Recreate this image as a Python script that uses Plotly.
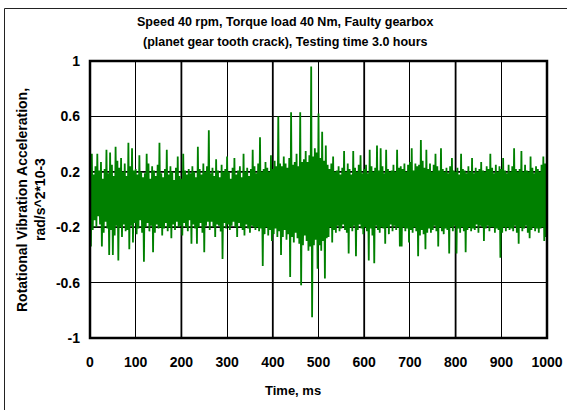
import numpy as np
import plotly.graph_objects as go

# Sample times (ms), 2 ms spacing
time_ms = list(range(0, 1001, 2))

# Rotational vibration acceleration (rad/s^2*10-3)
accel = [
    0.12, -0.34, 0.33, -0.22, 0.18, -0.15, 0.24, -0.20, 0.33, -0.12,
    0.21, -0.18, 0.27, -0.34, 0.15, -0.24, 0.22, -0.16, 0.36, -0.21,
    0.19, -0.40, 0.34, -0.22, 0.25, -0.40, 0.17, -0.26, 0.38, -0.19,
    0.28, -0.44, 0.23, -0.20, 0.30, -0.27, 0.20, -0.18, 0.26, -0.23,
    0.17, -0.22, 0.41, -0.36, 0.24, -0.19, 0.37, -0.31, 0.21, -0.17,
    0.22, -0.25, 0.18, -0.21, 0.32, -0.15, 0.20, -0.24, 0.16, -0.45,
    0.19, -0.20, 0.33, -0.17, 0.26, -0.23, 0.15, -0.19, 0.24, -0.38,
    0.21, -0.24, 0.17, -0.18, 0.25, -0.21, 0.41, -0.20, 0.19, -0.26,
    0.16, -0.21, 0.22, -0.17, 0.36, -0.23, 0.18, -0.20, 0.24, -0.28,
    0.20, -0.18, 0.14, -0.22, 0.23, -0.16, 0.31, -0.20, 0.17, -0.19,
    0.15, -0.26, 0.33, -0.17, 0.21, -0.20, 0.18, -0.23, 0.22, -0.15,
    0.19, -0.32, 0.24, -0.18, 0.20, -0.21, 0.16, -0.32, 0.38, -0.20,
    0.22, -0.17, 0.18, -0.24, 0.26, -0.38, 0.20, -0.19, 0.24, -0.16,
    0.50, -0.22, 0.19, -0.16, 0.23, -0.20, 0.17, -0.27, 0.29, -0.18,
    0.21, -0.19, 0.16, -0.23, 0.25, -0.43, 0.20, -0.17, 0.22, -0.21,
    0.31, -0.18, 0.20, -0.22, 0.15, -0.19, 0.23, -0.16, 0.30, -0.20,
    0.18, -0.27, 0.21, -0.17, 0.24, -0.20, 0.16, -0.22, 0.33, -0.26,
    0.20, -0.18, 0.23, -0.21, 0.17, -0.24, 0.22, -0.19, 0.36, -0.20,
    0.24, -0.22, 0.19, -0.20, 0.26, -0.23, 0.45, -0.21, 0.20, -0.48,
    0.22, -0.25, 0.27, -0.20, 0.23, -0.26, 0.20, -0.22, 0.32, -0.30,
    0.22, -0.25, 0.28, -0.21, 0.24, -0.27, 0.60, -0.23, 0.26, -0.40,
    0.24, -0.27, 0.31, -0.22, 0.26, -0.29, 0.23, -0.25, 0.30, -0.56,
    0.63, -0.27, 0.25, -0.31, 0.27, -0.24, 0.33, -0.28, 0.24, -0.32,
    0.63, -0.62, 0.27, -0.33, 0.29, -0.26, 0.35, -0.30, 0.27, -0.37,
    0.32, -0.34, 0.96, -0.85, 0.31, -0.33, 0.37, -0.29, 0.34, -0.50,
    0.62, -0.33, 0.30, -0.37, 0.49, -0.30, 0.28, -0.57, 0.39, -0.28,
    0.25, -0.27, 0.22, -0.20, 0.26, -0.31, 0.31, -0.22, 0.20, -0.24,
    0.21, -0.19, 0.24, -0.23, 0.18, -0.21, 0.23, -0.18, 0.35, -0.22,
    0.20, -0.24, 0.26, -0.39, 0.22, -0.20, 0.18, -0.23, 0.35, -0.19,
    0.23, -0.41, 0.20, -0.22, 0.25, -0.18, 0.32, -0.21, 0.19, -0.25,
    0.22, -0.20, 0.25, -0.23, 0.19, -0.44, 0.36, -0.21, 0.24, -0.26,
    0.20, -0.46, 0.23, -0.19, 0.39, -0.22, 0.21, -0.24, 0.37, -0.20,
    0.24, -0.21, 0.19, -0.32, 0.36, -0.20, 0.22, -0.25, 0.20, -0.18,
    0.21, -0.23, 0.25, -0.19, 0.20, -0.22, 0.36, -0.20, 0.23, -0.34,
    0.24, -0.34, 0.22, -0.20, 0.26, -0.23, 0.20, -0.21, 0.25, -0.31,
    0.27, -0.22, 0.37, -0.24, 0.21, -0.20, 0.26, -0.23, 0.24, -0.41,
    0.25, -0.26, 0.43, -0.22, 0.28, -0.25, 0.23, -0.36, 0.36, -0.24,
    0.22, -0.21, 0.26, -0.24, 0.20, -0.22, 0.25, -0.19, 0.33, -0.23,
    0.24, -0.34, 0.21, -0.20, 0.37, -0.23, 0.22, -0.25, 0.20, -0.21,
    0.23, -0.22, 0.19, -0.39, 0.24, -0.20, 0.30, -0.23, 0.21, -0.19,
    0.20, -0.39, 0.23, -0.21, 0.18, -0.24, 0.33, -0.20, 0.22, -0.23,
    0.21, -0.38, 0.19, -0.22, 0.24, -0.20, 0.20, -0.23, 0.30, -0.21,
    0.19, -0.22, 0.23, -0.18, 0.20, -0.24, 0.22, -0.19, 0.27, -0.20,
    0.21, -0.30, 0.20, -0.21, 0.24, -0.19, 0.22, -0.23, 0.33, -0.20,
    0.23, -0.20, 0.19, -0.24, 0.25, -0.21, 0.20, -0.22, 0.24, -0.42,
    0.22, -0.24, 0.30, -0.20, 0.21, -0.23, 0.19, -0.20, 0.25, -0.22,
    0.20, -0.21, 0.24, -0.23, 0.37, -0.19, 0.22, -0.24, 0.20, -0.32,
    0.22, -0.20, 0.35, -0.23, 0.20, -0.21, 0.25, -0.19, 0.21, -0.24,
    0.20, -0.28, 0.31, -0.22, 0.23, -0.20, 0.19, -0.23, 0.24, -0.21,
    0.22, -0.24, 0.20, -0.21, 0.25, -0.20, 0.31, -0.30, 0.26, -0.27,
    0.18,
]

x_tickvals = [0, 100, 200, 300, 400, 500, 600, 700, 800, 900, 1000]
x_ticktext = ["0", "100", "200", "300", "400", "500", "600", "700", "800", "900", "1000"]
y_tickvals = [-1, -0.6, -0.2, 0.2, 0.6, 1]
y_ticktext = ["-1", "-0.6", "-0.2", "0.2", "0.6", "1"]
x_thick = [200, 400, 600, 800]
y_thick = [-0.2, 0.2]

title_line1 = "Speed 40 rpm, Torque load 40 Nm, Faulty gearbox"
title_line2 = "(planet gear tooth crack), Testing time 3.0 hours"
x_title = "Time, ms"
y_title1 = "Rotational Vibration Acceleration,"
y_title2 = "rad/s^2*10-3"

FONT = "Arial, Liberation Sans, sans-serif"

fig = go.Figure()
fig.add_trace(go.Scatter(
    x=time_ms, y=accel, mode="lines",
    line=dict(color="#008000", width=1.8),
    showlegend=False, hoverinfo="skip",
))

W, H = 567, 410
L, R, T, B = 90, 20, 61, 72
pw, ph = W - L - R, H - T - B

def px_x(px):
    return (px - L) / pw

def px_y(py):
    return (H - B - py) / ph

shapes = []
for v in x_thick:
    shapes.append(dict(type="line", xref="x", yref="paper", x0=v, x1=v, y0=0, y1=1,
                       line=dict(color="black", width=1.8), layer="below"))
for v in y_thick:
    shapes.append(dict(type="line", xref="paper", yref="y", x0=0, x1=1, y0=v, y1=v,
                       line=dict(color="black", width=1.8), layer="below"))
# plot frame
shapes.append(dict(type="rect", xref="paper", yref="paper", x0=0, x1=1, y0=0, y1=1,
                   line=dict(color="black", width=2.5), layer="above"))
# outer chart frame (left/top visible)
shapes.append(dict(type="rect", xref="paper", yref="paper",
                   x0=px_x(4.5), x1=px_x(W + 20), y0=px_y(H + 20), y1=px_y(8.5),
                   line=dict(color="#222222", width=1), layer="above"))

annotations = [
    dict(text=f"<b>{title_line1}</b>", x=px_x(285), y=px_y(22), xref="paper", yref="paper",
         showarrow=False, xanchor="center", yanchor="middle",
         font=dict(family=FONT, size=12.5, color="black")),
    dict(text=f"<b>{title_line2}</b>", x=px_x(285), y=px_y(42), xref="paper", yref="paper",
         showarrow=False, xanchor="center", yanchor="middle",
         font=dict(family=FONT, size=12.5, color="black")),
    dict(text=f"<b>{x_title}</b>", x=px_x(293), y=px_y(390), xref="paper", yref="paper",
         showarrow=False, xanchor="center", yanchor="middle",
         font=dict(family=FONT, size=13, color="black")),
    dict(text=f"<b>{y_title1}</b>", x=px_x(22), y=px_y(200), xref="paper", yref="paper",
         showarrow=False, xanchor="center", yanchor="middle", textangle=-90,
         font=dict(family=FONT, size=14, color="black")),
    dict(text=f"<b>{y_title2}</b>", x=px_x(40), y=px_y(200), xref="paper", yref="paper",
         showarrow=False, xanchor="center", yanchor="middle", textangle=-90,
         font=dict(family=FONT, size=14, color="black")),
]

fig.update_layout(
    width=W, height=H,
    margin=dict(l=L, r=R, t=T, b=B, pad=0, autoexpand=False),
    paper_bgcolor="white", plot_bgcolor="white",
    shapes=shapes, annotations=annotations,
    xaxis=dict(range=[0, 1000], tickvals=x_tickvals, ticktext=x_ticktext,
               showgrid=True, gridcolor="black", gridwidth=1, zeroline=False,
               showline=False, ticks="", ticklabelstandoff=14, automargin=False,
               ticklabeloverflow="allow",
               tickfont=dict(family=FONT, size=14, color="black", weight="bold")),
    yaxis=dict(range=[-1, 1], tickvals=y_tickvals, ticktext=y_ticktext,
               showgrid=True, gridcolor="black", gridwidth=1, zeroline=False,
               showline=False, ticks="", ticklabelstandoff=9, automargin=False,
               ticklabeloverflow="allow",
               tickfont=dict(family=FONT, size=14, color="black", weight="bold")),
)

fig.write_html(
    "out.html",
    config={"displayModeBar": False},
    post_script="document.body.style.margin='0';document.body.style.overflow='hidden';",
)
